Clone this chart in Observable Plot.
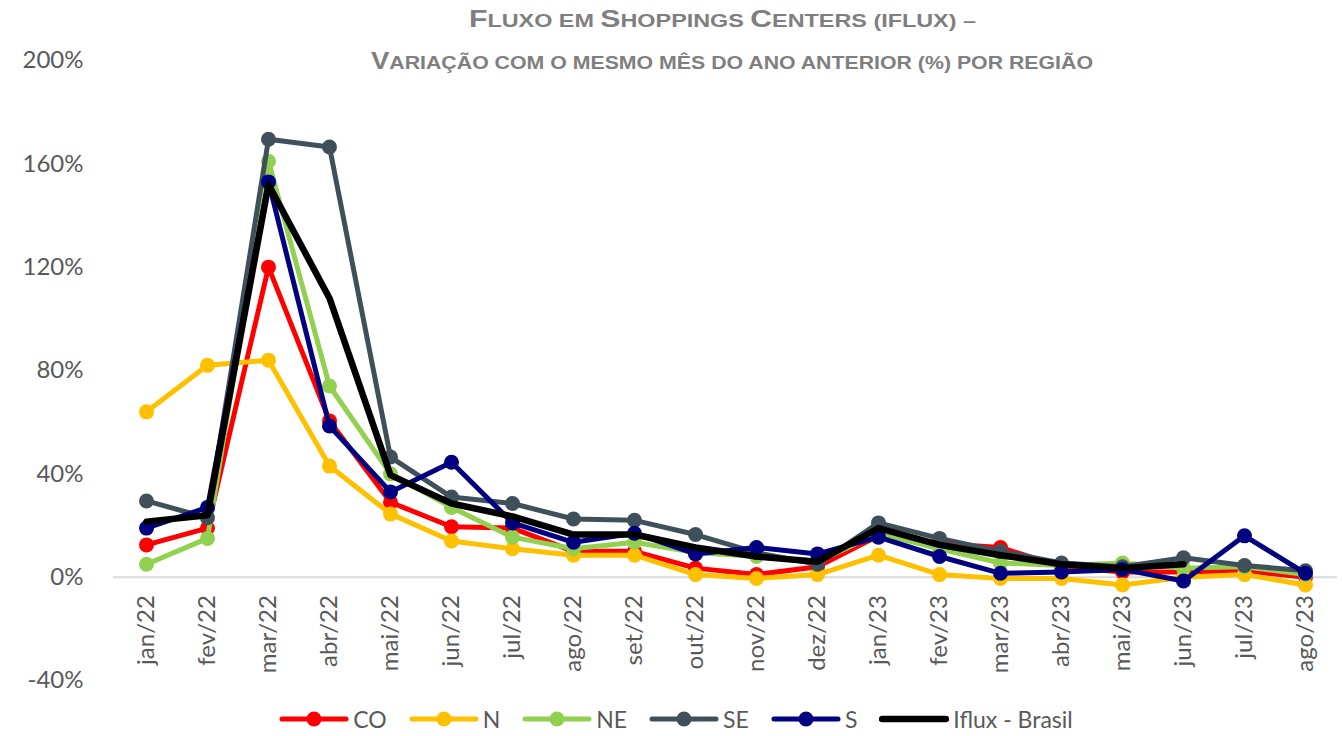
<!DOCTYPE html>
<html>
<head>
<meta charset="utf-8">
<script src="https://cdn.jsdelivr.net/npm/d3@7"></script>
<script src="https://cdn.jsdelivr.net/npm/@observablehq/plot@0.6"></script>
<style>
  html, body { margin: 0; padding: 0; background: #fff; }
  #wrap { position: relative; width: 1342px; height: 736px; overflow: hidden; }
  #title { position: absolute; left: 0; top: 0; }
  #chart { position: absolute; left: 0; top: 0; }
  #legend { position: absolute; left: 0; top: 702px; width: 1352px; height: 34px;
    display: flex; justify-content: center; align-items: center;
    font-family: Lato, "Open Sans", sans-serif; font-size: 23px; color: #595959; }
  .item { display: flex; align-items: center; margin: 0 11px; }
  .item svg { display: block; }
  .item span { margin-left: 4px; }
</style>
</head>
<body>
<div id="wrap">
  <div id="chart"></div>
  <svg id="title" width="1342" height="80"></svg>
  <div id="legend"></div>
</div>
<script>
const titleLines = ["Fluxo em Shoppings Centers (iflux) –", "Variação com o mesmo mês do ano anterior (%) por região"];

const months = ["jan/22","fev/22","mar/22","abr/22","mai/22","jun/22","jul/22","ago/22","set/22","out/22","nov/22","dez/22",
                "jan/23","fev/23","mar/23","abr/23","mai/23","jun/23","jul/23","ago/23"];

const CO     = [12.5, 19, 120, 60.5, 29, 19.5, 19, 10, 10, 3.5, 1, 4, 16, 13, 11.5, 4, 2, 2, 2.5, 0];
const N      = [64, 82, 84, 43, 24.5, 14, 11, 8.5, 8.5, 1, -0.5, 1, 8.5, 1, -0.5, -0.5, -3, 0, 1, -3];
const NE     = [5, 15, 161, 74, 40, 27, 15.5, 11, 13.5, 9.5, 8, 6, 17, 11, 5.5, 4.5, 5.5, 3.5, 4, 1];
const SE     = [29.5, 23, 169.5, 166.5, 46.5, 31, 28.5, 22.5, 22, 16.5, 9.5, 5, 21, 15, 10, 5.5, 4, 7.5, 4.5, 2.5];
const S      = [19, 27, 153, 58.5, 33, 44.5, 21, 13.5, 17, 9, 11.5, 9, 15.5, 8, 1.5, 2, 3, -1.5, 16, 1.5];
const Brasil = [21.5, 24, 152, 108, 39.5, 28.5, 23.5, 16.5, 16.5, 11.5, 8, 6, 19, 12.5, 8.5, 5, 3.5, 5];

const seriesNames  = ["CO", "N", "NE", "SE", "S", "Iflux - Brasil"];
const seriesValues = [CO, N, NE, SE, S, Brasil];
const seriesColors = ["#FF0000", "#FFC000", "#92D050", "#3F505B", "#000080", "#000000"];
const seriesMarkers = [true, true, true, true, true, false];

const yTicks = [-40, 0, 40, 80, 120, 160, 200];

const series = seriesNames.map((name, i) => ({
  name, color: seriesColors[i], marker: seriesMarkers[i],
  data: seriesValues[i].map((v, j) => ({month: months[j], value: v}))
}));

const marks = [
  Plot.ruleY([0], {stroke: "#d9d9d9", strokeWidth: 2}),
  Plot.axisY({ticks: yTicks, tickFormat: d => d + "%", tickSize: 0, tickPadding: 30,
              fontSize: 24, fill: "#595959", label: null}),
  Plot.text(months, {x: d => d, y: () => 0, text: d => d, rotate: -90, textAnchor: "end",
                     dy: 18, fontSize: 24, fill: "#595959"})
];
for (const s of series) {
  marks.push(Plot.line(s.data, {x: "month", y: "value", stroke: s.color,
    strokeWidth: s.marker ? 5 : 6.5, strokeLinejoin: "round", strokeLinecap: "round"}));
  if (s.marker) marks.push(Plot.dot(s.data, {x: "month", y: "value", r: 7.5, fill: s.color, stroke: "none"}));
}

const chart = Plot.plot({
  width: 1342, height: 700,
  marginLeft: 113, marginRight: 5, marginTop: 60, marginBottom: 20,
  style: {fontFamily: "Lato, 'Open Sans', sans-serif", background: "#fff"},
  x: {type: "point", domain: months, padding: 0.5, axis: null},
  y: {domain: [-40, 200], axis: null},
  marks
});
document.getElementById("chart").appendChild(chart);

// Title with Excel-like small caps (large capitals + reduced-size capitals)
const titleSvg = d3.select("#title");
const titleLayout = [{x: 469, y: 27, w: 507}, {x: 371, y: 69, w: 722}];
titleLines.forEach((line, i) => {
  const L = titleLayout[i];
  const t = titleSvg.append("text")
    .attr("x", L.x).attr("y", L.y)
    .attr("textLength", L.w).attr("lengthAdjust", "spacingAndGlyphs")
    .attr("font-family", "'Liberation Sans', Arial, sans-serif")
    .attr("font-weight", "bold").attr("fill", "#7f7f7f");
  const runs = [];
  for (const ch of line) {
    const type = ch !== ch.toLowerCase() ? "big" : "small";
    if (runs.length && runs[runs.length - 1].type === type) runs[runs.length - 1].s += ch;
    else runs.push({type, s: ch});
  }
  for (const r of runs) {
    t.append("tspan").attr("font-size", r.type === "big" ? 24.5 : 19).text(r.s.toUpperCase());
  }
});

const legend = document.getElementById("legend");
for (const s of series) {
  const item = document.createElement("div");
  item.className = "item";
  const svg = d3.create("svg").attr("width", 70).attr("height", 20);
  svg.append("line").attr("x1", 3).attr("x2", 67).attr("y1", 10).attr("y2", 10)
    .attr("stroke", s.color).attr("stroke-width", s.marker ? 5 : 6.5).attr("stroke-linecap", "round");
  if (s.marker) svg.append("circle").attr("cx", 35).attr("cy", 10).attr("r", 7.5).attr("fill", s.color);
  item.appendChild(svg.node());
  const sp = document.createElement("span");
  sp.textContent = s.name;
  item.appendChild(sp);
  legend.appendChild(item);
}
</script>
</body>
</html>
